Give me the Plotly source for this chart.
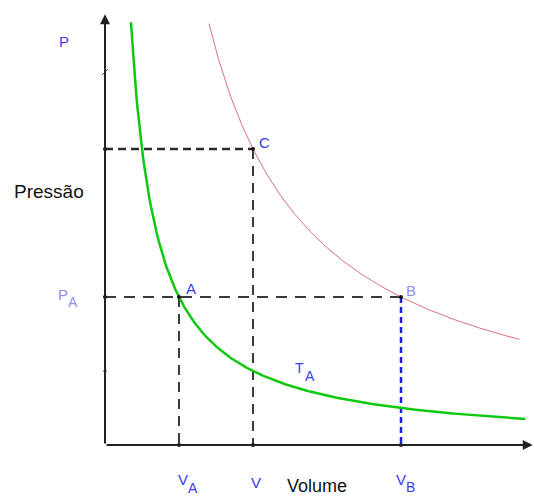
import plotly.graph_objects as go

# State points on the P-V diagram
point_names = ["A", "B", "C"]
point_volume = [1.0, 4.0, 2.0]
point_pressure = [2.0, 2.0, 4.0]

# Extent of each isotherm along the volume axis
green_v_range = [0.35, 5.68]
red_v_range = [1.405, 5.6]

# Axis limits (arrow tips)
axis_v_max = 5.78
axis_p_max = 5.82

VA, VB, VC = point_volume[0], point_volume[1], point_volume[2]
PA, PB, PC = point_pressure[0], point_pressure[1], point_pressure[2]

# Isotherm constants PV = k taken from the state points
k_green = PA * VA
k_red = PC * VC


def isotherm(k, v0, v1, n=300):
    vs = [v0 + (v1 - v0) * i / (n - 1) for i in range(n)]
    return vs, [k / v for v in vs]


fig = go.Figure()

# Dashed guide lines
guide = dict(mode="lines", hoverinfo="skip", showlegend=False)
fig.add_trace(go.Scatter(x=[0, VC], y=[PC, PC],
                         line=dict(color="#2a2a2a", width=2.5, dash="8px,5px"), **guide))
fig.add_trace(go.Scatter(x=[VC, VC], y=[PC, 0],
                         line=dict(color="#3a3a3a", width=2, dash="10px,7px"), **guide))
fig.add_trace(go.Scatter(x=[0, VB], y=[PA, PA],
                         line=dict(color="#3a3a3a", width=2, dash="11px,8px"), **guide))
fig.add_trace(go.Scatter(x=[VA, VA], y=[PA, 0],
                         line=dict(color="#3a3a3a", width=2, dash="10px,7px"), **guide))
fig.add_trace(go.Scatter(x=[VB, VB], y=[PB, 0],
                         line=dict(color="#1a1aff", width=2.5, dash="6px,4px"), **guide))

# Isotherms
gx, gy = isotherm(k_green, *green_v_range)
fig.add_trace(go.Scatter(x=gx, y=gy, line=dict(color="#10c810", width=2.5), **guide))
rx, ry = isotherm(k_red, *red_v_range)
fig.add_trace(go.Scatter(x=rx, y=ry, line=dict(color="#d9707c", width=1), **guide))

# Axes drawn as lines with arrowheads
fig.add_annotation(x=0, y=axis_p_max, ax=0, ay=0, xref="x", yref="y", axref="x", ayref="y",
                   showarrow=True, arrowhead=2, arrowsize=1, arrowwidth=2, arrowcolor="#222", text="")
fig.add_annotation(x=axis_v_max, y=0, ax=0, ay=0, xref="x", yref="y", axref="x", ayref="y",
                   showarrow=True, arrowhead=2, arrowsize=1, arrowwidth=2, arrowcolor="#222", text="")

# Points on curves and their projections on the axes
fig.add_trace(go.Scatter(x=point_volume + [0, 0, VA, VC, VB],
                         y=point_pressure + [PA, PC, 0, 0, 0],
                         mode="markers", marker=dict(color="#111", size=4),
                         hoverinfo="skip", showlegend=False))
# small axis ticks
fig.add_trace(go.Scatter(x=[0, 5], y=[1, 0], mode="markers",
                         marker=dict(color="#555", size=3, symbol="line-ew", line=dict(width=1, color="#555")),
                         hoverinfo="skip", showlegend=False))
fig.add_trace(go.Scatter(x=[0], y=[5.04], mode="markers",
                         marker=dict(color="#555", size=6, symbol="line-ne", line=dict(width=1, color="#555")),
                         hoverinfo="skip", showlegend=False))

font = "Liberation Sans, Arial, sans-serif"


def label(x, y, text, color, size=15):
    fig.add_annotation(x=x, y=y, text=text, showarrow=False, xref="x", yref="y",
                       xanchor="center", yanchor="middle", borderpad=0,
                       font=dict(family=font, size=size, color=color))


def sub_label(x, y, main, sub, color, size=15, sub_size=14):
    # main letter with a near full-size subscript set lower right
    label(x, y, main, color, size)
    label(x + 0.135, y - 0.11, sub, color, sub_size)


blue = "#3a3af0"
light = "#8c8cf0"
label(-0.56, 5.45, "P", blue)
label(-0.757, 3.42, "Pressão", "#111", size=19)
sub_label(-0.574, 2.04, "P", "A", light)
label(2.15, 4.09, point_names[2], blue)
label(1.16, 2.11, point_names[0], blue)
label(4.14, 2.09, point_names[1], light)
sub_label(2.635, 1.04, "T", "A", blue, size=14)
sub_label(1.054, -0.47, "V", "A", blue)
label(2.04, -0.5, "V", blue)
label(2.87, -0.55, "Volume", "#111", size=18)
sub_label(4.0, -0.46, "V", "B", blue)

fig.update_layout(
    width=534, height=498,
    margin=dict(l=0, r=0, t=0, b=0),
    plot_bgcolor="white", paper_bgcolor="white",
    xaxis=dict(range=[-105 / 74, 429 / 74], visible=False, fixedrange=True),
    yaxis=dict(range=[-53 / 74, 445 / 74], visible=False, fixedrange=True),
    showlegend=False,
)

fig.write_html("out.html")
